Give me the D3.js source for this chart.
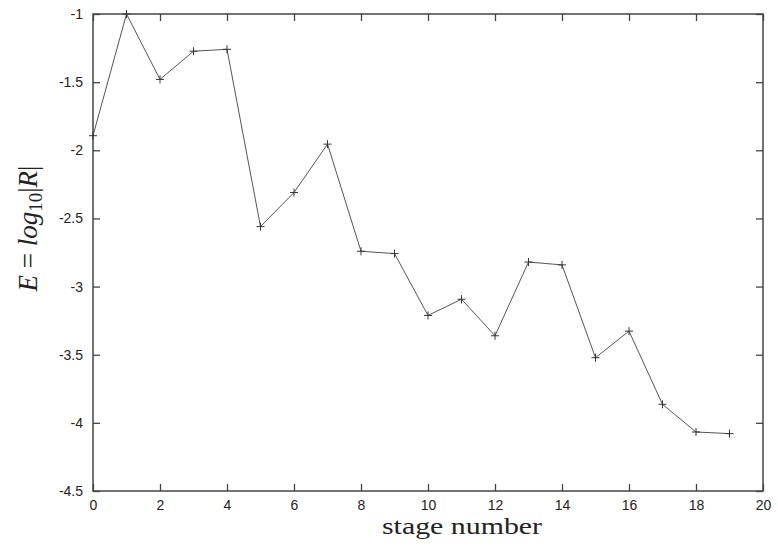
<!DOCTYPE html>
<html>
<head>
<meta charset="utf-8">
<script src="https://cdn.jsdelivr.net/npm/d3@7"></script>
<style>
  body { margin: 0; background: #fff; }
  .tick text { font-family: "Liberation Sans", Arial, sans-serif; font-size: 14px; fill: #222; }
</style>
</head>
<body>
<div id="chart"></div>
<script>
var stages = [0, 1, 2, 3, 4, 5, 6, 7, 8, 9, 10, 11, 12, 13, 14, 15, 16, 17, 18, 19];
var errorValues = [-1.893, -1.0, -1.48, -1.273, -1.259, -2.56, -2.31, -1.955, -2.741, -2.758,
                   -3.212, -3.093, -3.361, -2.82, -2.841, -3.522, -3.327, -3.864, -4.067, -4.079];
var xTicks = [0, 2, 4, 6, 8, 10, 12, 14, 16, 18, 20];
var yTicks = [-1, -1.5, -2, -2.5, -3, -3.5, -4, -4.5];

var margin = {top: 14, right: 15, bottom: 56, left: 93},
    width = 778 - margin.left - margin.right,
    height = 547 - margin.top - margin.bottom;

var svg = d3.select("#chart")
    .append("svg")
    .attr("width", 778)
    .attr("height", 547)
    .append("g")
    .attr("transform", "translate(" + margin.left + "," + margin.top + ")");

var x = d3.scaleLinear().domain([0, 20]).range([0, width]);
var y = d3.scaleLinear().domain([-4.5, -1]).range([height, 0]);

var axisColor = "#444";

// bottom and left axes with labels, inward ticks
var xAxis = svg.append("g")
    .attr("transform", "translate(0," + height + ")")
    .call(d3.axisBottom(x).tickValues(xTicks).tickSizeInner(-7).tickSizeOuter(0).tickPadding(9));
var yAxis = svg.append("g")
    .call(d3.axisLeft(y).tickValues(yTicks).tickSizeInner(-7).tickSizeOuter(0).tickPadding(10)
        .tickFormat(function(d) { return d; }));

// mirrored ticks on top and right
var xTop = svg.append("g")
    .call(d3.axisTop(x).tickValues(xTicks).tickSizeInner(-7).tickSizeOuter(0).tickFormat(""));
var yRight = svg.append("g")
    .attr("transform", "translate(" + width + ",0)")
    .call(d3.axisRight(y).tickValues(yTicks).tickSizeInner(-7).tickSizeOuter(0).tickFormat(""));

svg.selectAll(".domain").remove();
svg.selectAll(".tick line").attr("stroke", axisColor).attr("stroke-width", 1.3);
xAxis.selectAll("text").attr("dy", "0.71em");

svg.append("rect")
    .attr("x", 0).attr("y", 0)
    .attr("width", width).attr("height", height)
    .attr("fill", "none")
    .attr("stroke", axisColor)
    .attr("stroke-width", 1.5);

var pts = stages.map(function(s, i) { return [s, errorValues[i]]; });

var line = d3.line()
    .x(function(d) { return x(d[0]); })
    .y(function(d) { return y(d[1]); });

svg.append("path")
    .datum(pts)
    .attr("fill", "none")
    .attr("stroke", "#555")
    .attr("stroke-width", 1)
    .attr("d", line);

// plus markers
svg.selectAll(".mark")
    .data(pts)
    .enter()
    .append("path")
    .attr("class", "mark")
    .attr("d", function(d) {
        var cx = x(d[0]), cy = y(d[1]), r = 4;
        return "M" + (cx - r) + "," + cy + "H" + (cx + r) + "M" + cx + "," + (cy - r) + "V" + (cy + r);
    })
    .attr("stroke", "#333")
    .attr("stroke-width", 1);

// axis titles
svg.append("text")
    .attr("x", 369)
    .attr("y", height + 43)
    .attr("text-anchor", "middle")
    .attr("font-family", "'Liberation Serif', 'DejaVu Serif', serif")
    .attr("font-size", 24)
    .attr("textLength", 160)
    .attr("lengthAdjust", "spacingAndGlyphs")
    .attr("fill", "#222")
    .text("stage number");

var ylab = svg.append("text")
    .attr("transform", "translate(" + (-56) + "," + (height / 2 - 24) + ") rotate(-90)")
    .attr("text-anchor", "middle")
    .attr("font-family", "'Liberation Serif', 'DejaVu Serif', serif")
    .attr("font-size", 27)
    .attr("fill", "#222");
ylab.append("tspan").attr("font-style", "italic").text("E");
ylab.append("tspan").text(" = ");
ylab.append("tspan").attr("font-style", "italic").text("log");
ylab.append("tspan").attr("font-size", 19).attr("dy", 5).text("10");
ylab.append("tspan").attr("dy", -5).text("|");
ylab.append("tspan").attr("font-style", "italic").text("R");
ylab.append("tspan").text("|");
</script>
</body>
</html>
